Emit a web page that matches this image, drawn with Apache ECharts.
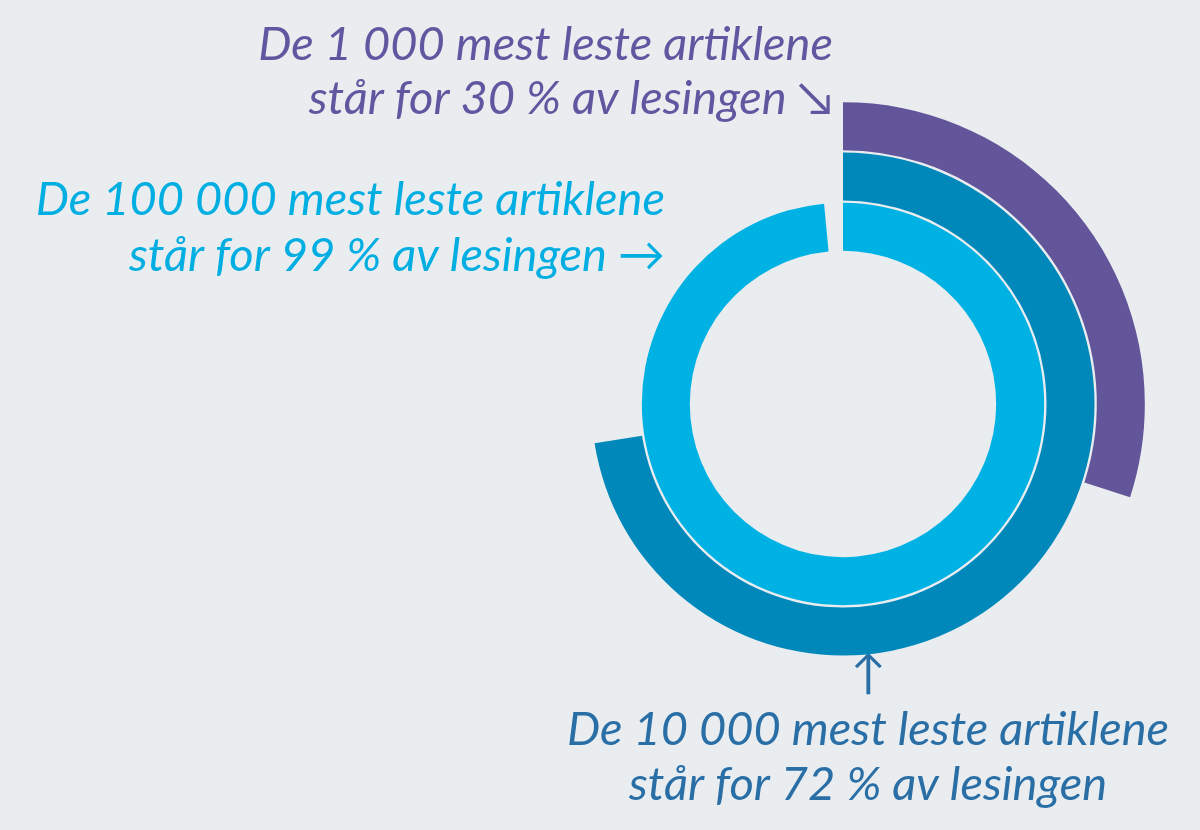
<!DOCTYPE html>
<html>
<head>
<meta charset="utf-8">
<script src="https://cdn.jsdelivr.net/npm/echarts@6/dist/echarts.min.js"></script>
<style>
html,body{margin:0;padding:0;background:#E9EDF0;}
#chart{width:1200px;height:830px;}
</style>
</head>
<body>
<div id="chart"></div>
<script>
// Data
const categories = ['100 000', '10 000', '1 000'];
const shares = [98.5, 72.5, 30];
const ringColors = ['#00B1E3', '#0088BB', '#62559A'];
const labelLines = [
  ['De 100 000 mest leste artiklene', 'står for 99 % av lesingen →'],
  ['De 10 000 mest leste artiklene', 'står for 72 % av lesingen'],
  ['De 1 000 mest leste artiklene', 'står for 30 % av lesingen ↘']
];
const labelColors = ['#00AEE2', '#2A6EA6', '#5F58A0'];

const chart = echarts.init(document.getElementById('chart'));
const font = 'Lato, "Open Sans", sans-serif';
const fs = 47;

function textEl(str, x, y, align, color) {
  return {
    type: 'text', x: x, y: y,
    style: {
      text: str, x: 0, y: 0, fill: color,
      font: 'italic 400 ' + fs + 'px ' + font,
      textAlign: align, textVerticalAlign: 'middle'
    }
  };
}

const graphics = [
  textEl(labelLines[2][0], 833, 45, 'right', labelColors[2]),
  textEl(labelLines[2][1], 833, 99, 'right', labelColors[2]),
  textEl(labelLines[0][0], 665, 200, 'right', labelColors[0]),
  textEl(labelLines[0][1], 665, 256, 'right', labelColors[0]),
  textEl('↑', 868, 674, 'center', labelColors[1]),
  textEl(labelLines[1][0], 868, 730, 'center', labelColors[1]),
  textEl(labelLines[1][1], 868, 785, 'center', labelColors[1])
];

chart.setOption({
  backgroundColor: '#E9EDF0',
  animation: false,
  polar: { center: [843, 404], radius: [152, 303] },
  angleAxis: {
    type: 'value', min: 0, max: 100, startAngle: 90, clockwise: true,
    show: false
  },
  radiusAxis: {
    type: 'category', data: categories, show: false
  },
  series: [{
    type: 'bar',
    coordinateSystem: 'polar',
    barWidth: 48,
    data: shares.map((v, i) => ({ value: v, itemStyle: { color: ringColors[i] } }))
  }],
  graphic: graphics
});
</script>
</body>
</html>
